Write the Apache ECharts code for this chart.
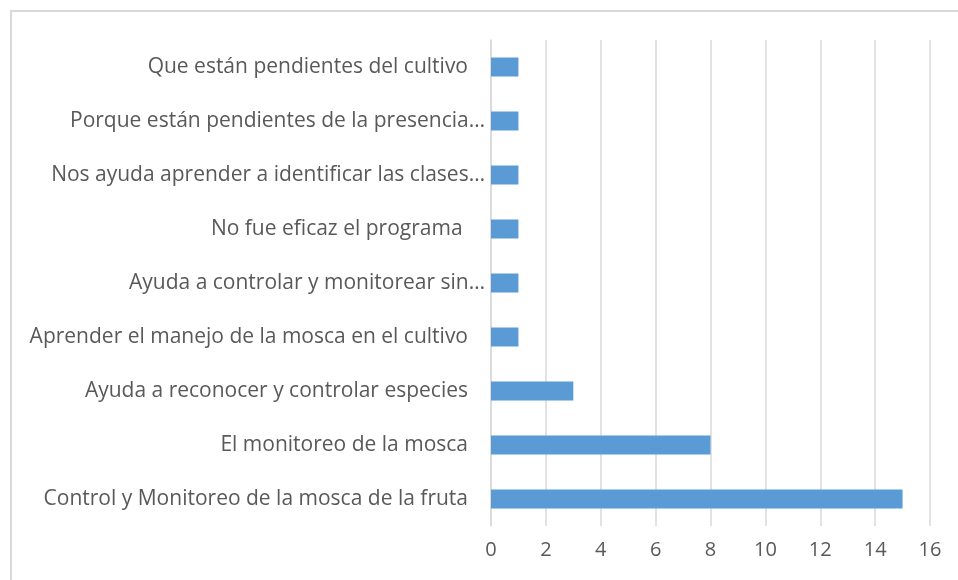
<!DOCTYPE html>
<html>
<head>
<meta charset="utf-8">
<script src="https://cdn.jsdelivr.net/npm/echarts@6/dist/echarts.min.js"></script>
<style>
  html, body { margin: 0; padding: 0; background: #fff; }
  #frame { position: absolute; left: 10px; top: 10px; width: 960px; height: 580px;
           border-left: 2px solid #d9d9d9; border-top: 2px solid #d9d9d9; }
  #BarMain { position: absolute; left: 0; top: 0; width: 958px; height: 580px; }
</style>
</head>
<body>
<div id="frame"></div>
<div id="BarMain"></div>
<script>
// categories bottom -> top
var categories = [
  'Control y Monitoreo de la mosca de la fruta',
  'El monitoreo de la mosca',
  'Ayuda a reconocer y controlar especies',
  'Aprender el manejo de la mosca en el cultivo',
  'Ayuda a controlar y monitorear sin…',
  'No fue eficaz el programa ',
  'Nos ayuda aprender a identificar las clases…',
  'Porque están pendientes de la presencia…',
  'Que están pendientes del cultivo'
];
var values = [15, 8, 3, 1, 1, 1, 1, 1, 1];
var xTicks = [0, 2, 4, 6, 8, 10, 12, 14, 16];

var labelFont = { color: '#595959', fontSize: 21, fontFamily: 'Open Sans' };

var chart = echarts.init(document.getElementById('BarMain'));
chart.setOption({
  animation: false,
  grid: { left: 491, right: 28, top: 40, bottom: 54, containLabel: false },
  xAxis: {
    type: 'value',
    min: xTicks[0],
    max: xTicks[xTicks.length - 1],
    interval: 2,
    axisLine: { show: false },
    axisTick: { show: false },
    splitLine: { show: true, lineStyle: { color: '#d9d9d9', width: 1.5 } },
    axisLabel: { color: '#595959', fontSize: 20, fontFamily: 'Open Sans', margin: 14 }
  },
  yAxis: {
    type: 'category',
    data: categories,
    axisLine: { show: true, lineStyle: { color: '#d9d9d9', width: 1.5 } },
    axisTick: { show: false },
    axisLabel: {
      color: '#595959', fontSize: 21, fontFamily: 'Open Sans', margin: 6,
      // truncated labels sit closer to the axis, like the original
      formatter: function (v) {
        return v.charAt(v.length - 1) === '…' ? '{e|' + v + '}' : '{n|' + v + '}';
      },
      rich: {
        n: Object.assign({ padding: [0, 17, 0, 0] }, labelFont),
        e: Object.assign({}, labelFont)
      }
    }
  },
  series: [{
    type: 'bar',
    data: values,
    barWidth: 19,
    itemStyle: { color: '#5b9bd5' }
  }]
});
window.addEventListener('resize', function () { chart.resize(); });
</script>
</body>
</html>
